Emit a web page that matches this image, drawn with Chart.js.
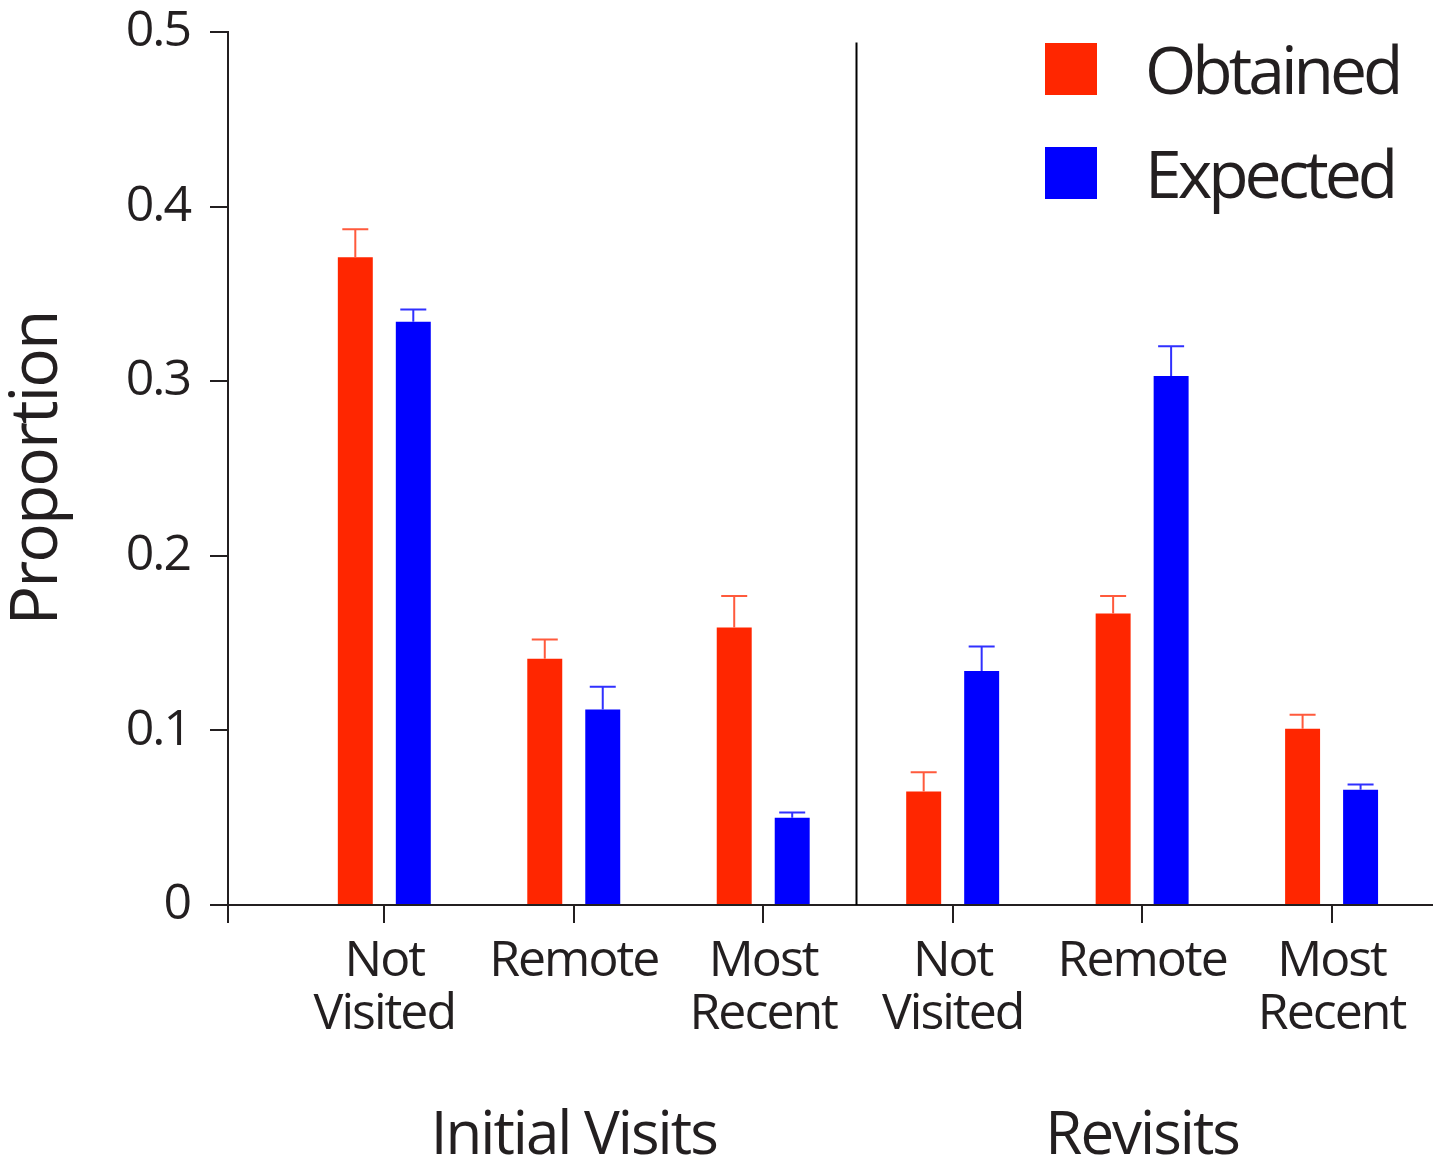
<!DOCTYPE html>
<html>
<head>
<meta charset="utf-8">
<script src="https://cdn.jsdelivr.net/npm/chart.js@4.4.1/dist/chart.umd.min.js"></script>
<style>
  body { margin: 0; background: #fff; }
  #wrap { position: relative; width: 1438px; height: 1163px; }
  .legend-item { position: absolute; left: 1045px; }
  .legend-box { position: absolute; left: 0; width: 52px; height: 52px; }
  .legend-text { position: absolute; left: 100px; font-family: "Open Sans", sans-serif; font-size: 66px;
                 line-height: 66px; letter-spacing: -4px; color: #231f20; white-space: nowrap; }
</style>
</head>
<body>
<div id="wrap">
  <canvas id="chart"></canvas>
  <div id="legend"></div>
</div>
<script>
// data
const categories = [['Not', 'Visited'], 'Remote', ['Most', 'Recent'],
                    ['Not', 'Visited'], 'Remote', ['Most', 'Recent']];
const groups = ['Initial Visits', 'Revisits'];
const groupCenters = [1, 4];
const obtained = [0.371, 0.141, 0.159, 0.065, 0.167, 0.101];
const obtainedErr = [0.016, 0.011, 0.018, 0.011, 0.010, 0.008];
const expected = [0.334, 0.112, 0.050, 0.134, 0.303, 0.066];
const expectedErr = [0.007, 0.013, 0.003, 0.014, 0.017, 0.003];
const yTicks = [0, 0.1, 0.2, 0.3, 0.4, 0.5];
const yTickLabels = ['0', '0.1', '0.2', '0.3', '0.4', '0.5'];

const ink = '#231f20';
const xMin = -0.825, xMax = 5.53;

// error bars + divider between the two groups
const extras = {
    id: 'extras',
    beforeUpdate(chart) { chart.ctx.letterSpacing = '-2px'; },
    beforeDraw(chart) { chart.ctx.letterSpacing = '-2px'; },
    afterDatasetsDraw(chart) {
        const ctx = chart.ctx;
        const y = chart.scales.y, x = chart.scales.x;
        ctx.save();
        chart.data.datasets.forEach((ds, di) => {
            const meta = chart.getDatasetMeta(di);
            ctx.strokeStyle = ds.errColor;
            ctx.lineWidth = 2;
            meta.data.forEach((bar, i) => {
                const top = y.getPixelForValue(ds.data[i].y + ds.err[i]);
                ctx.beginPath();
                ctx.moveTo(bar.x, bar.y);
                ctx.lineTo(bar.x, top);
                ctx.moveTo(bar.x - 13, top);
                ctx.lineTo(bar.x + 13, top);
                ctx.stroke();
            });
        });
        const dx = Math.round(x.getPixelForValue(2.49)) + 0.5;
        ctx.strokeStyle = '#000';
        ctx.lineWidth = 2;
        ctx.beginPath();
        ctx.moveTo(dx, y.getPixelForValue(0.494));
        ctx.lineTo(dx, y.getPixelForValue(0));
        ctx.stroke();
        ctx.restore();
    }
};

const tickFont = { family: 'Open Sans', size: 50 };
const noPad = s => { s.paddingLeft = 0; s.paddingRight = 0; s.paddingTop = 0; s.paddingBottom = 0; };

const chart = new Chart(document.getElementById('chart'), {
    type: 'bar',
    data: {
        datasets: [{
            label: 'Obtained',
            data: obtained.map((v, i) => ({ x: i, y: v })),
            err: obtainedErr,
            backgroundColor: '#ff2600',
            errColor: '#ff5a3c'
        }, {
            label: 'Expected',
            data: expected.map((v, i) => ({ x: i, y: v })),
            err: expectedErr,
            backgroundColor: '#0000ff',
            errColor: '#3030ff'
        }]
    },
    options: {
        responsive: true,
        maintainAspectRatio: false,
        animation: false,
        // the bar ruler measures against the gap to the left edge tick (0.825 units)
        categoryPercentage: 0.742,
        barPercentage: 0.603,
        layout: { padding: { top: 32, right: 6, left: 0, bottom: 0 } },
        plugins: { legend: { display: false }, tooltip: { enabled: false } },
        scales: {
            x: {
                type: 'linear', min: xMin, max: xMax, position: 'bottom', offset: false,
                afterBuildTicks: s => { s.ticks = [{ value: xMin }].concat(categories.map((c, i) => ({ value: i }))); },
                afterFit: s => { s.height = 150; noPad(s); },
                ticks: {
                    autoSkip: false, maxRotation: 0, padding: 12, color: ink,
                    font: Object.assign({ lineHeight: 1.06 }, tickFont),
                    callback: v => (v === xMin ? '' : categories[v])
                },
                grid: { offset: false, drawOnChartArea: false, drawTicks: true, tickLength: 18, color: ink, lineWidth: 2 },
                border: { display: true, color: ink, width: 2 }
            },
            x2: {
                type: 'linear', min: xMin, max: xMax, position: 'bottom', offset: false,
                afterBuildTicks: s => { s.ticks = groupCenters.map(v => ({ value: v })); },
                afterFit: s => { s.height = 108; noPad(s); },
                ticks: {
                    autoSkip: false, maxRotation: 0, padding: 46, color: ink,
                    font: { family: 'Open Sans', size: 60, lineHeight: 1.2 },
                    callback: v => groups[groupCenters.indexOf(v)]
                },
                grid: { display: false, drawTicks: false, offset: false },
                border: { display: false }
            },
            y: {
                min: 0, max: 0.5,
                afterBuildTicks: s => { s.ticks = yTicks.map(v => ({ value: v })); },
                afterFit: s => { s.width = 228; noPad(s); },
                ticks: {
                    padding: 20, color: ink, font: tickFont,
                    callback: (v) => yTickLabels[yTicks.indexOf(v)]
                },
                grid: { drawOnChartArea: false, drawTicks: true, tickLength: 18, color: ink, lineWidth: 2 },
                border: { display: true, color: ink, width: 2 },
                title: {
                    display: true, text: 'Proportion', color: ink,
                    font: { family: 'Open Sans', size: 66, lineHeight: 1.1 },
                    padding: { top: 2, bottom: 0 }
                }
            }
        }
    },
    plugins: [extras]
});

// legend built from the datasets
const legend = document.getElementById('legend');
const legendTops = [43, 147];
chart.data.datasets.forEach((ds, i) => {
    const item = document.createElement('div');
    item.className = 'legend-item';
    item.style.top = legendTops[i] + 'px';
    item.innerHTML = '<div class="legend-box" style="background:' + ds.backgroundColor + '"></div>' +
        '<div class="legend-text" style="top:-8px">' + ds.label + '</div>';
    legend.appendChild(item);
});
</script>
</body>
</html>
